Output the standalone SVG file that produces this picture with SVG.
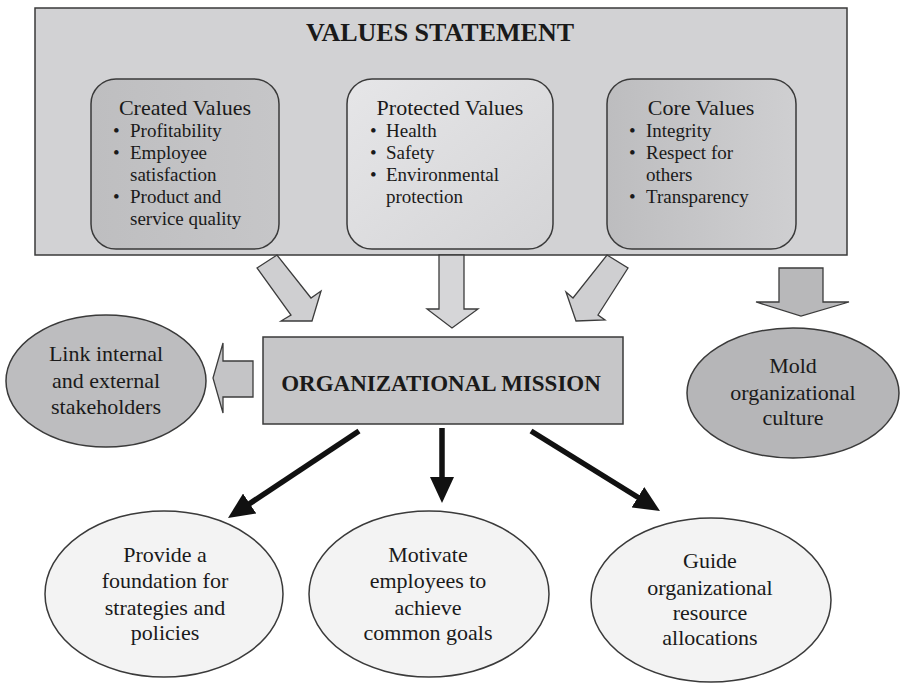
<svg xmlns="http://www.w3.org/2000/svg" width="903" height="683" viewBox="0 0 903 683">
<style>
  text { font-family: "Liberation Serif", "Times New Roman", serif; fill: #1a1a1a; }
  .title { font-size: 26px; font-weight: bold; text-anchor: middle; }
  .boxtitle { font-size: 22px; text-anchor: middle; }
  .item { font-size: 19px; }
  .etext { font-size: 22px; text-anchor: middle; }
  .mission { font-size: 23px; font-weight: bold; text-anchor: middle; }
  .frame { stroke: #3a3a3a; stroke-width: 1.5; }
  .block { stroke: #3c3c3c; stroke-width: 1.3; stroke-linejoin: miter; }
  .black { stroke: #111; stroke-width: 5.5; fill: none; marker-end: url(#head); }
</style>
<defs>
  <marker id="head" viewBox="0 0 26 24" refX="8" refY="12" markerWidth="26" markerHeight="24" markerUnits="userSpaceOnUse" orient="auto">
    <path d="M0,0 L26,12 L0,24 z" fill="#111"/>
  </marker>
  <linearGradient id="gProt" x1="0" y1="0" x2="1" y2="1">
    <stop offset="0" stop-color="#e6e6e8"/>
    <stop offset="1" stop-color="#d4d4d6"/>
  </linearGradient>
  <linearGradient id="gCore" x1="0" y1="0" x2="1" y2="0">
    <stop offset="0" stop-color="#bdbdbf"/>
    <stop offset="1" stop-color="#cfcfd1"/>
  </linearGradient>
  <linearGradient id="gCreated" x1="0" y1="0" x2="1" y2="0">
    <stop offset="0" stop-color="#bebec0"/>
    <stop offset="1" stop-color="#c6c6c8"/>
  </linearGradient>
</defs>

<g id="values-statement">
  <rect x="35" y="8" width="812" height="247" fill="#d2d2d4" class="frame"/>
  <text class="title" x="440" y="41">VALUES STATEMENT</text>
</g>

<g id="created-values">
  <rect x="91" y="79" width="188" height="170" rx="25" ry="25" fill="url(#gCreated)" class="frame"/>
  <text class="boxtitle" x="185" y="115">Created Values</text>
  <text class="item" x="113" y="137">•</text><text class="item" x="130" y="137">Profitability</text>
  <text class="item" x="113" y="159">•</text><text class="item" x="130" y="159">Employee</text>
  <text class="item" x="130" y="181">satisfaction</text>
  <text class="item" x="113" y="203">•</text><text class="item" x="130" y="203">Product and</text>
  <text class="item" x="130" y="225">service quality</text>
</g>

<g id="protected-values">
  <rect x="347" y="79" width="206" height="170" rx="25" ry="25" fill="url(#gProt)" class="frame"/>
  <text class="boxtitle" x="450" y="115">Protected Values</text>
  <text class="item" x="370" y="137">•</text><text class="item" x="386" y="137">Health</text>
  <text class="item" x="370" y="159">•</text><text class="item" x="386" y="159">Safety</text>
  <text class="item" x="370" y="181">•</text><text class="item" x="386" y="181">Environmental</text>
  <text class="item" x="386" y="203">protection</text>
</g>

<g id="core-values">
  <rect x="607" y="79" width="189" height="170" rx="25" ry="25" fill="url(#gCore)" class="frame"/>
  <text class="boxtitle" x="701" y="115">Core Values</text>
  <text class="item" x="629" y="137">•</text><text class="item" x="646" y="137">Integrity</text>
  <text class="item" x="629" y="159">•</text><text class="item" x="646" y="159">Respect for</text>
  <text class="item" x="646" y="181">others</text>
  <text class="item" x="629" y="203">•</text><text class="item" x="646" y="203">Transparency</text>
</g>

<g id="organizational-mission">
  <rect x="263" y="337" width="360" height="87" fill="#c6c6c8" class="frame"/>
  <text class="mission" x="441" y="391">ORGANIZATIONAL MISSION</text>
</g>

<g id="link-stakeholders">
  <ellipse cx="106" cy="381" rx="100" ry="66" fill="#bdbdbf" class="frame"/>
  <text class="etext" x="106" y="361">Link internal</text>
  <text class="etext" x="106" y="388">and external</text>
  <text class="etext" x="106" y="414">stakeholders</text>
</g>

<g id="mold-culture">
  <ellipse cx="793" cy="393" rx="106" ry="65" fill="#b6b6b8" class="frame"/>
  <text class="etext" x="793" y="373">Mold</text>
  <text class="etext" x="793" y="400">organizational</text>
  <text class="etext" x="793" y="425">culture</text>
</g>

<g id="provide-foundation">
  <ellipse cx="164" cy="594" rx="119" ry="83" fill="#f3f3f3" class="frame"/>
  <text class="etext" x="165" y="562">Provide a</text>
  <text class="etext" x="165" y="588">foundation for</text>
  <text class="etext" x="165" y="615">strategies and</text>
  <text class="etext" x="165" y="640">policies</text>
</g>

<g id="motivate-employees">
  <ellipse cx="429" cy="594" rx="120" ry="83" fill="#f3f3f3" class="frame"/>
  <text class="etext" x="428" y="562">Motivate</text>
  <text class="etext" x="428" y="588">employees to</text>
  <text class="etext" x="428" y="615">achieve</text>
  <text class="etext" x="428" y="640">common goals</text>
</g>

<g id="guide-allocations">
  <ellipse cx="711" cy="600" rx="120" ry="82" fill="#f3f3f3" class="frame"/>
  <text class="etext" x="710" y="568">Guide</text>
  <text class="etext" x="710" y="595">organizational</text>
  <text class="etext" x="710" y="620">resource</text>
  <text class="etext" x="710" y="645">allocations</text>
</g>

<g id="connectors">
  <polygon class="block" fill="#cfcfd1" points="257,268 277,255 311,298 321,291 312,321 281,321 291,315"/>
  <polygon class="block" fill="#d6d6d8" points="439,255 464,255 464,309 478,309 452,328 427,309 439,309"/>
  <polygon class="block" fill="#cfcfd1" points="607,255 628,268 598,315 605,320 576,321 566,292 573,298"/>
  <polygon class="block" fill="#b8b8ba" points="779,268 823,268 823,302 849,302 801,316 756,302 779,302"/>
  <polygon class="block" fill="#c4c4c6" points="253,361 253,397 223,397 223,413 213,378 223,343 223,361"/>
  <path class="black" d="M359,431 L243,508"/>
  <path class="black" d="M442,428 L442,485"/>
  <path class="black" d="M531,431 L644.7,501.5"/>
</g>
</svg>
